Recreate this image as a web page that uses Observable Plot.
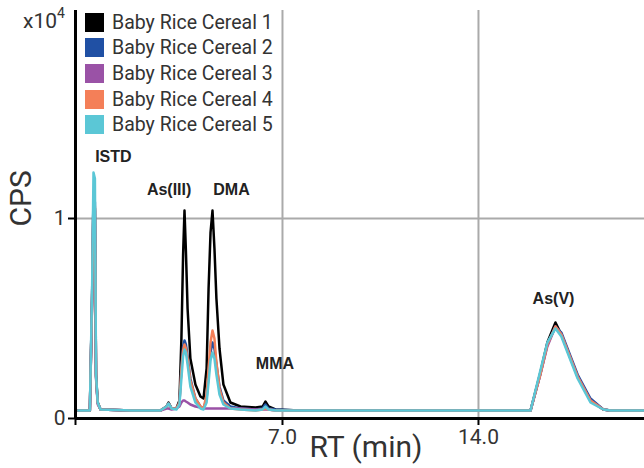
<!DOCTYPE html>
<html><head><meta charset="utf-8">
<script src="https://cdn.jsdelivr.net/npm/d3@7"></script>
<script src="https://cdn.jsdelivr.net/npm/@observablehq/plot@0.6"></script>
<style>
body{margin:0;background:#fff;}
#wrap{position:relative;width:644px;height:468px;overflow:hidden;font-family:Roboto,sans-serif;color:#333;}
#wrap svg{position:absolute;left:0;top:0;}
.lg{position:absolute;left:85px;display:flex;align-items:center;height:20px;font-size:19.5px;white-space:nowrap;color:#333;background:#fff;}
.lg span.sw{display:inline-block;width:19px;height:19px;margin-right:8px;}
#mult{position:absolute;left:23px;top:7px;font-size:21px;color:#333;}
#mult sup{font-size:14px;position:relative;top:-2px;}
</style></head><body><div id="wrap"></div>
<script>
// Retention time grid (min)
const rt = [-0.29,0.12,0.20,0.25,0.30,0.34,0.40,0.50,1.6,2.64,2.86,2.93,3.04,3.21,3.32,3.39,3.45,3.50,3.55,3.61,3.71,3.89,4.07,4.18,4.29,4.36,4.43,4.50,4.57,4.64,4.75,4.89,5.14,5.50,6.04,6.29,6.39,6.50,6.75,7.6,11.2,14.8,15.86,16.21,16.46,16.75,16.96,17.18,17.54,18.00,18.46,18.71,19.93];
// CPS (x10^4) per sample
const cereal1 = [.04,.04,.60,1.12,1.05,.22,.08,.045,.04,.04,.06,.08,.05,.05,.09,.40,.82,1.04,.84,.55,.30,.17,.11,.10,.25,.65,.93,1.04,.85,.60,.35,.17,.08,.06,.055,.06,.085,.06,.045,.04,.04,.04,.04,.23,.38,.48,.42,.34,.21,.09,.045,.04,.04];
const cereal2 = [.04,.04,.62,1.13,1.08,.21,.08,.045,.04,.04,.06,.075,.05,.05,.08,.25,.36,.39,.37,.31,.20,.10,.06,.05,.10,.22,.33,.38,.35,.27,.16,.09,.06,.05,.045,.05,.07,.05,.045,.04,.04,.04,.04,.22,.37,.46,.43,.35,.22,.10,.045,.04,.04];
const cereal3 = [.04,.04,.58,1.10,1.04,.20,.07,.045,.04,.04,.05,.05,.045,.05,.06,.08,.09,.09,.085,.08,.07,.06,.055,.05,.05,.05,.05,.05,.05,.05,.05,.05,.05,.05,.045,.045,.045,.045,.04,.04,.04,.04,.04,.22,.36,.46,.42,.34,.21,.09,.045,.04,.04];
const cereal4 = [.04,.04,.60,1.11,1.06,.21,.08,.045,.04,.04,.06,.075,.05,.05,.08,.25,.34,.37,.35,.30,.19,.10,.06,.05,.12,.25,.38,.44,.40,.28,.15,.08,.05,.045,.04,.045,.05,.045,.04,.04,.04,.04,.04,.22,.37,.46,.42,.34,.21,.09,.045,.04,.04];
const cereal5 = [.04,.04,.65,1.23,1.20,.22,.08,.045,.04,.04,.06,.075,.05,.045,.07,.20,.31,.345,.33,.27,.16,.08,.05,.045,.08,.18,.29,.33,.30,.22,.12,.07,.05,.045,.04,.045,.06,.045,.04,.04,.04,.04,.04,.24,.38,.45,.41,.33,.20,.08,.045,.04,.04];

const seriesNames = ["Baby Rice Cereal 1","Baby Rice Cereal 2","Baby Rice Cereal 3","Baby Rice Cereal 4","Baby Rice Cereal 5"];
const seriesColors = ["#000000","#2050a4","#9a52a6","#f47f58","#5bc7d6"];
const peakNames = ["ISTD","As(III)","DMA","MMA","As(V)"];
const peakRT = [0.96,2.95,5.18,6.73,16.68];
const peakCPS = [1.31,1.145,1.145,0.275,0.60];
const xTicks = [7,14];
const yTicks = [0,1];
const xDomain = [-0.393,19.93];
const yDomain = [0,2.04];

const allSeries = [cereal1,cereal2,cereal3,cereal4,cereal5];
const rows = [];
allSeries.forEach((vals,s)=>vals.forEach((v,i)=>rows.push({rt:rt[i],cps:v,series:seriesNames[s]})));
const peaks = peakNames.map((n,i)=>({name:n,rt:peakRT[i],cps:peakCPS[i]}));

const chart = Plot.plot({
  width:644,height:468,
  marginLeft:75,marginRight:0,marginTop:10,marginBottom:50,
  style:{fontFamily:"Roboto, sans-serif",color:"#333",background:"transparent",overflow:"visible"},
  x:{domain:xDomain},
  y:{domain:yDomain},
  color:{domain:seriesNames,range:seriesColors},
  marks:[
    Plot.ruleX(xTicks,{stroke:"#aaa",strokeWidth:2}),
    Plot.ruleY([1],{stroke:"#aaa",strokeWidth:2}),
    Plot.line(rows,{x:"rt",y:"cps",z:"series",stroke:"series",strokeWidth:2.5}),
    Plot.ruleX([xDomain[0]],{stroke:"#000",strokeWidth:3}),
    Plot.ruleY([0],{stroke:"#000",strokeWidth:3}),
    Plot.axisX({ticks:[xDomain[0],...xTicks],tickFormat:d=>d<0?"":d.toFixed(1),tickSize:7,tickPadding:4,fontSize:21,label:null,stroke:"#000",strokeWidth:2}),
    Plot.axisY({ticks:yTicks,tickFormat:d=>String(d),tickSize:7,tickPadding:3,fontSize:21,label:null,stroke:"#000",strokeWidth:2}),
    Plot.text(["RT (min)"],{frameAnchor:"bottom",text:d=>d,dy:38,dx:6,fontSize:30,fill:"#333"}),
    Plot.text(["CPS"],{frameAnchor:"left",text:d=>d,rotate:-90,dx:-54,dy:12,fontSize:30,fill:"#333"}),
    Plot.text(peaks,{x:"rt",y:"cps",text:"name",fontSize:16,fontWeight:"bold",fontFamily:"Liberation Sans, Arial, sans-serif",fill:"#222"})
  ]
});
const wrap = document.getElementById("wrap");
wrap.appendChild(chart);

const mult = document.createElement("div");
mult.id="mult"; mult.innerHTML="x10<sup>4</sup>";
wrap.appendChild(mult);
seriesNames.forEach((n,i)=>{
  const d=document.createElement("div");
  d.className="lg";
  d.style.top=(12+i*25.7)+"px";
  d.innerHTML=`<span class="sw" style="background:${seriesColors[i]}"></span>${n}`;
  wrap.appendChild(d);
});
</script></body></html>
